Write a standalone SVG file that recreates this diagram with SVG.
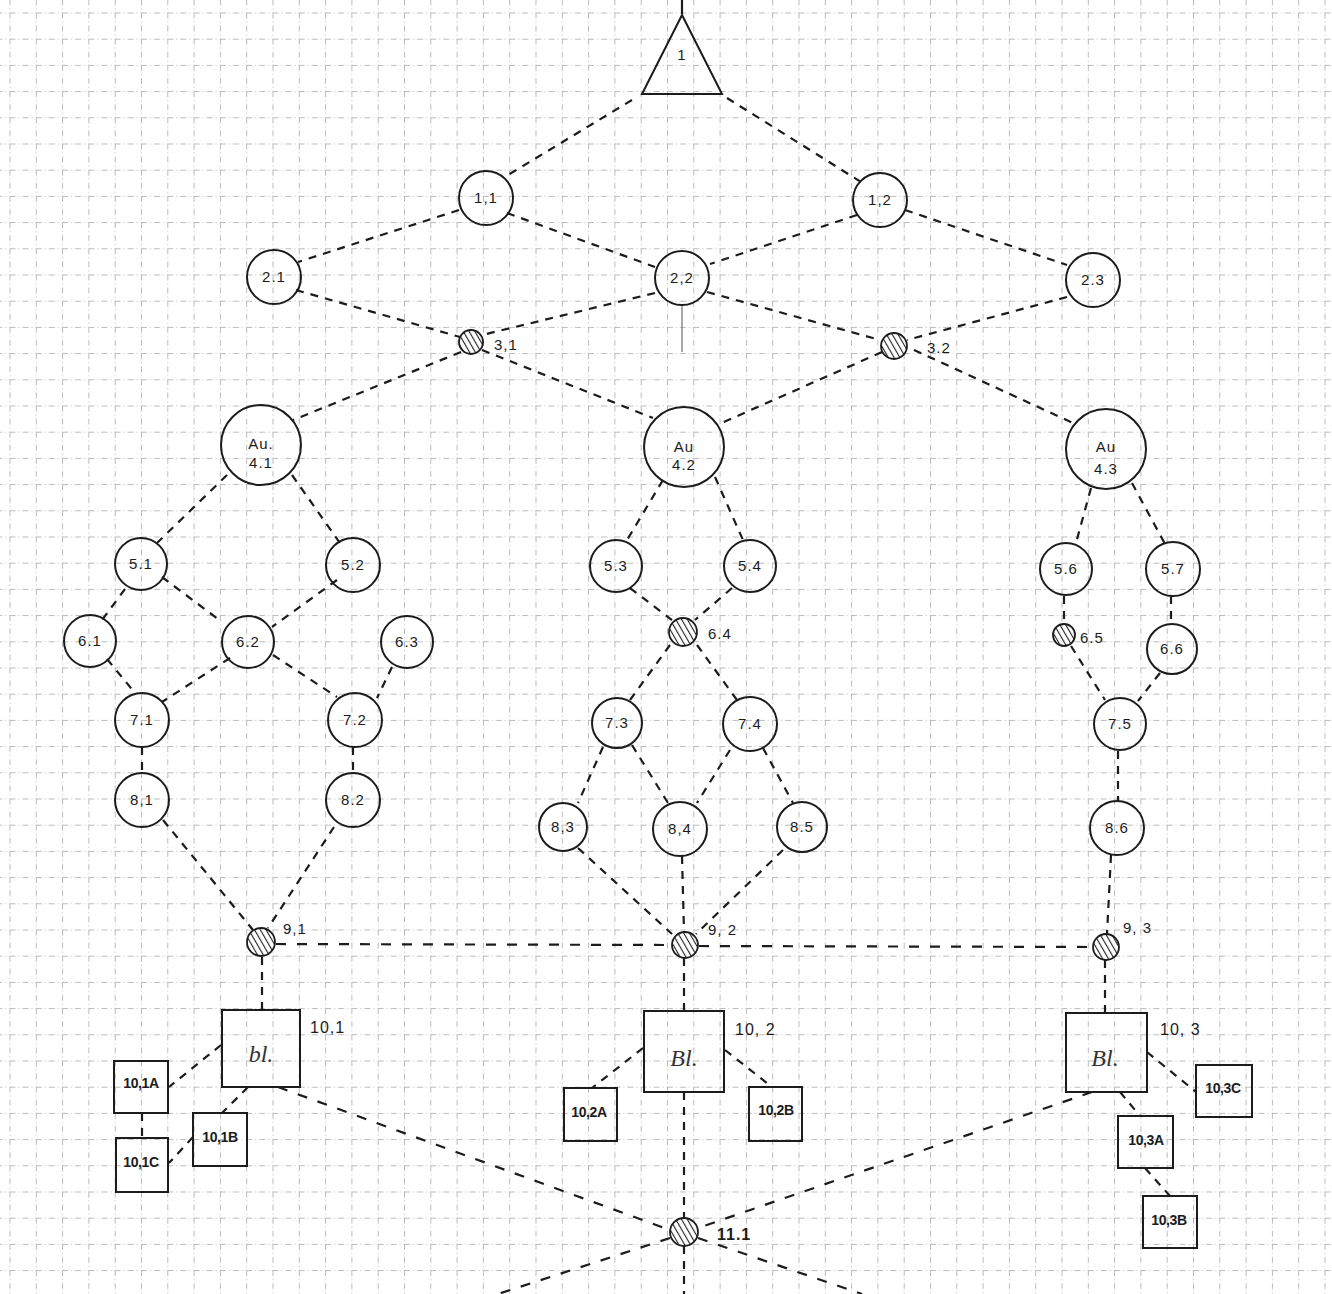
<svg xmlns="http://www.w3.org/2000/svg" width="1332" height="1294" viewBox="0 0 1332 1294">
<defs>
<pattern id="grid" x="9.5" y="12.5" width="26.3" height="26.2" patternUnits="userSpaceOnUse">
<path d="M0 0.5H26.3M0.5 0V26.2" stroke="#b9b9b9" stroke-width="1" stroke-dasharray="6 3 1 3" fill="none"/>
</pattern>
<pattern id="hatch" width="5" height="5" patternUnits="userSpaceOnUse" patternTransform="rotate(-30)">
<rect width="5" height="5" fill="#fff"/>
<line x1="0" y1="0" x2="0" y2="5" stroke="#222" stroke-width="2.2"/>
</pattern>
<style>
.c{fill:none;stroke:#1c1c1c;stroke-width:2}
.h{fill:url(#hatch);stroke:#1c1c1c;stroke-width:1.8}
.b{fill:none;stroke:#1c1c1c;stroke-width:2}
.t{font-family:"Liberation Sans",Arial,sans-serif;font-size:15px;fill:#1c1c1c;text-anchor:middle;letter-spacing:1px}
.l{font-family:"Liberation Sans",Arial,sans-serif;font-size:15px;fill:#1c1c1c;letter-spacing:1px}
.s{font-family:"Liberation Sans",Arial,sans-serif;font-size:14px;font-weight:bold;fill:#1c1c1c;text-anchor:middle;letter-spacing:-0.4px}
.bl{font-family:"Liberation Serif",serif;font-style:italic;font-size:24px;fill:#333;text-anchor:middle}
.e line{stroke:#1c1c1c;stroke-width:2.2;stroke-dasharray:8 7;fill:none}
</style>
</defs>
<rect width="1332" height="1294" fill="#fff"/>
<rect width="1332" height="1294" fill="url(#grid)"/>

<g id="connectors" class="e">
<line x1="682" y1="0" x2="682" y2="14" style="stroke-dasharray:none"/>
<line x1="632" y1="100" x2="508" y2="175"/>
<line x1="727" y1="98" x2="861" y2="182"/>
<line x1="459" y1="210" x2="298" y2="262"/>
<line x1="507" y1="213" x2="655" y2="267"/>
<line x1="857" y1="215" x2="710" y2="264"/>
<line x1="905" y1="210" x2="1067" y2="265"/>
<line x1="296" y1="290" x2="460" y2="337"/>
<line x1="655" y1="293" x2="482" y2="335"/>
<line x1="707" y1="292" x2="880" y2="340"/>
<line x1="1067" y1="297" x2="907" y2="340"/>
<line x1="682" y1="305" x2="682" y2="352" style="stroke:#555;stroke-width:1;stroke-dasharray:none"/>
<line x1="461" y1="352" x2="293" y2="420"/>
<line x1="482" y1="350" x2="653" y2="418"/>
<line x1="882" y1="352" x2="717" y2="425"/>
<line x1="914" y1="350" x2="1073" y2="423"/>
<line x1="227" y1="475" x2="157" y2="543"/>
<line x1="292" y1="475" x2="340" y2="543"/>
<line x1="125" y1="589" x2="102" y2="620"/>
<line x1="162" y1="577" x2="222" y2="622"/>
<line x1="337" y1="580" x2="272" y2="627"/>
<line x1="107" y1="659" x2="135" y2="693"/>
<line x1="230" y1="658" x2="162" y2="702"/>
<line x1="273" y1="655" x2="337" y2="697"/>
<line x1="392" y1="667" x2="377" y2="698"/>
<line x1="142" y1="747" x2="142" y2="773"/>
<line x1="353" y1="747" x2="353" y2="773"/>
<line x1="163" y1="820" x2="253" y2="930"/>
<line x1="334" y1="827" x2="268" y2="928"/>
<line x1="663" y1="480" x2="627" y2="540"/>
<line x1="715" y1="477" x2="743" y2="540"/>
<line x1="630" y1="588" x2="672" y2="620"/>
<line x1="732" y1="588" x2="695" y2="620"/>
<line x1="670" y1="645" x2="630" y2="700"/>
<line x1="697" y1="645" x2="737" y2="700"/>
<line x1="603" y1="747" x2="578" y2="803"/>
<line x1="632" y1="745" x2="668" y2="803"/>
<line x1="730" y1="750" x2="697" y2="803"/>
<line x1="763" y1="748" x2="793" y2="803"/>
<line x1="578" y1="848" x2="672" y2="934"/>
<line x1="682" y1="856" x2="684" y2="932"/>
<line x1="783" y1="850" x2="696" y2="934"/>
<line x1="1091" y1="488" x2="1076" y2="543"/>
<line x1="1132" y1="483" x2="1165" y2="544"/>
<line x1="1064" y1="596" x2="1064" y2="623"/>
<line x1="1171" y1="596" x2="1171" y2="624"/>
<line x1="1071" y1="646" x2="1105" y2="700"/>
<line x1="1160" y1="673" x2="1138" y2="701"/>
<line x1="1118" y1="751" x2="1118" y2="801"/>
<line x1="1111" y1="855" x2="1107" y2="934"/>
<line x1="276" y1="944" x2="671" y2="945" style="stroke-dasharray:10 11"/>
<line x1="699" y1="946" x2="1093" y2="947" style="stroke-dasharray:10 11"/>
<line x1="262" y1="957" x2="262" y2="1010"/>
<line x1="684" y1="958" x2="684" y2="1011"/>
<line x1="1105" y1="960" x2="1105" y2="1013"/>
<line x1="221" y1="1045" x2="169" y2="1087"/>
<line x1="248" y1="1087" x2="222" y2="1113"/>
<line x1="142" y1="1113" x2="142" y2="1138"/>
<line x1="193" y1="1137" x2="169" y2="1163"/>
<line x1="278" y1="1087" x2="670" y2="1230" style="stroke-dasharray:10 11"/>
<line x1="643" y1="1048" x2="592" y2="1088"/>
<line x1="725" y1="1050" x2="772" y2="1087"/>
<line x1="684" y1="1092" x2="684" y2="1218"/>
<line x1="1147" y1="1052" x2="1196" y2="1092"/>
<line x1="1120" y1="1092" x2="1140" y2="1116"/>
<line x1="1145" y1="1168" x2="1170" y2="1196"/>
<line x1="1092" y1="1092" x2="698" y2="1228" style="stroke-dasharray:10 11"/>
<line x1="670" y1="1238" x2="498" y2="1294" style="stroke-dasharray:10 11"/>
<line x1="698" y1="1238" x2="862" y2="1294" style="stroke-dasharray:10 11"/>
<line x1="684" y1="1246" x2="684" y2="1294"/>
</g>

<g id="n1"><polygon points="682,15 642,94 722,94" class="c"/><text x="682" y="60" class="t">1</text></g>
<g id="n1-1"><circle cx="486" cy="198" r="27" class="c"/><text x="486" y="203" class="t">1,1</text></g>
<g id="n1-2"><circle cx="880" cy="200" r="27" class="c"/><text x="880" y="205" class="t">1,2</text></g>
<g id="n2-1"><circle cx="274" cy="277" r="27" class="c"/><text x="274" y="282" class="t">2.1</text></g>
<g id="n2-2"><circle cx="682" cy="278" r="27" class="c"/><text x="682" y="283" class="t">2,2</text></g>
<g id="n2-3"><circle cx="1093" cy="280" r="27" class="c"/><text x="1093" y="285" class="t">2.3</text></g>
<g id="n3-1"><circle cx="471" cy="342" r="12" class="h"/><text x="494" y="350" class="l">3,1</text></g>
<g id="n3-2"><circle cx="894" cy="346" r="13" class="h"/><text x="927" y="353" class="l">3.2</text></g>
<g id="n4-1"><circle cx="261" cy="445" r="40" class="c"/><text x="261" y="449" class="t">Au.</text><text x="261" y="468" class="t">4.1</text></g>
<g id="n4-2"><circle cx="684" cy="447" r="40" class="c"/><text x="684" y="452" class="t">Au</text><text x="684" y="470" class="t">4.2</text></g>
<g id="n4-3"><circle cx="1106" cy="449" r="40" class="c"/><text x="1106" y="452" class="t">Au</text><text x="1106" y="474" class="t">4.3</text></g>
<g id="n5-1"><circle cx="141" cy="564" r="26" class="c"/><text x="141" y="569" class="t">5.1</text></g>
<g id="n5-2"><circle cx="353" cy="565" r="27" class="c"/><text x="353" y="570" class="t">5.2</text></g>
<g id="n5-3"><circle cx="616" cy="566" r="26" class="c"/><text x="616" y="571" class="t">5.3</text></g>
<g id="n5-4"><circle cx="750" cy="566" r="26" class="c"/><text x="750" y="571" class="t">5.4</text></g>
<g id="n5-6"><circle cx="1066" cy="569" r="26" class="c"/><text x="1066" y="574" class="t">5.6</text></g>
<g id="n5-7"><circle cx="1173" cy="569" r="27" class="c"/><text x="1173" y="574" class="t">5.7</text></g>
<g id="n6-1"><circle cx="90" cy="641" r="26" class="c"/><text x="90" y="646" class="t">6.1</text></g>
<g id="n6-2"><circle cx="248" cy="642" r="26" class="c"/><text x="248" y="647" class="t">6.2</text></g>
<g id="n6-3"><circle cx="407" cy="642" r="26" class="c"/><text x="407" y="647" class="t">6.3</text></g>
<g id="n6-4"><circle cx="683" cy="632" r="14" class="h"/><text x="708" y="639" class="l">6.4</text></g>
<g id="n6-5"><circle cx="1064" cy="635" r="11" class="h"/><text x="1080" y="643" class="l">6.5</text></g>
<g id="n6-6"><circle cx="1172" cy="649" r="25" class="c"/><text x="1172" y="654" class="t">6.6</text></g>
<g id="n7-1"><circle cx="142" cy="720" r="27" class="c"/><text x="142" y="725" class="t">7.1</text></g>
<g id="n7-2"><circle cx="355" cy="720" r="27" class="c"/><text x="355" y="725" class="t">7.2</text></g>
<g id="n7-3"><circle cx="617" cy="723" r="25" class="c"/><text x="617" y="728" class="t">7.3</text></g>
<g id="n7-4"><circle cx="750" cy="724" r="27" class="c"/><text x="750" y="729" class="t">7.4</text></g>
<g id="n7-5"><circle cx="1120" cy="724" r="26" class="c"/><text x="1120" y="729" class="t">7.5</text></g>
<g id="n8-1"><circle cx="142" cy="800" r="27" class="c"/><text x="142" y="805" class="t">8,1</text></g>
<g id="n8-2"><circle cx="353" cy="800" r="27" class="c"/><text x="353" y="805" class="t">8.2</text></g>
<g id="n8-3"><circle cx="563" cy="827" r="24" class="c"/><text x="563" y="832" class="t">8,3</text></g>
<g id="n8-4"><circle cx="680" cy="829" r="27" class="c"/><text x="680" y="834" class="t">8,4</text></g>
<g id="n8-5"><circle cx="802" cy="827" r="25" class="c"/><text x="802" y="832" class="t">8.5</text></g>
<g id="n8-6"><circle cx="1117" cy="828" r="27" class="c"/><text x="1117" y="833" class="t">8.6</text></g>
<g id="n9-1"><circle cx="261" cy="942" r="14" class="h"/><text x="283" y="934" class="l">9,1</text></g>
<g id="n9-2"><circle cx="685" cy="945" r="13" class="h"/><text x="708" y="935" class="l">9, 2</text></g>
<g id="n9-3"><circle cx="1106" cy="947" r="13" class="h"/><text x="1123" y="933" class="l">9, 3</text></g>
<g id="n10-1"><rect x="222" y="1010" width="78" height="77" class="b"/><text x="261" y="1062" class="bl">bl.</text><text x="310" y="1033" class="l" style="font-size:16px">10,1</text></g>
<g id="n10-1A"><rect x="114" y="1061" width="54" height="52" class="b"/><text x="141" y="1088" class="s">10,1A</text></g>
<g id="n10-1B"><rect x="193" y="1113" width="54" height="53" class="b"/><text x="220" y="1142" class="s">10,1B</text></g>
<g id="n10-1C"><rect x="116" y="1138" width="52" height="54" class="b"/><text x="141" y="1167" class="s">10,1C</text></g>
<g id="n10-2"><rect x="644" y="1011" width="80" height="81" class="b"/><text x="684" y="1066" class="bl">Bl.</text><text x="735" y="1035" class="l" style="font-size:16px">10, 2</text></g>
<g id="n10-2A"><rect x="564" y="1088" width="53" height="53" class="b"/><text x="589" y="1117" class="s">10,2A</text></g>
<g id="n10-2B"><rect x="749" y="1087" width="53" height="54" class="b"/><text x="776" y="1115" class="s">10,2B</text></g>
<g id="n10-3"><rect x="1066" y="1013" width="81" height="79" class="b"/><text x="1105" y="1066" class="bl">Bl.</text><text x="1160" y="1035" class="l" style="font-size:16px">10, 3</text></g>
<g id="n10-3A"><rect x="1118" y="1116" width="55" height="52" class="b"/><text x="1146" y="1145" class="s">10,3A</text></g>
<g id="n10-3B"><rect x="1143" y="1196" width="54" height="52" class="b"/><text x="1169" y="1225" class="s">10,3B</text></g>
<g id="n10-3C"><rect x="1196" y="1065" width="56" height="52" class="b"/><text x="1223" y="1093" class="s">10,3C</text></g>
<g id="n11-1"><circle cx="684" cy="1232" r="14" class="h"/><text x="717" y="1240" class="l" style="font-size:16px;font-weight:bold">11.1</text></g>
</svg>
